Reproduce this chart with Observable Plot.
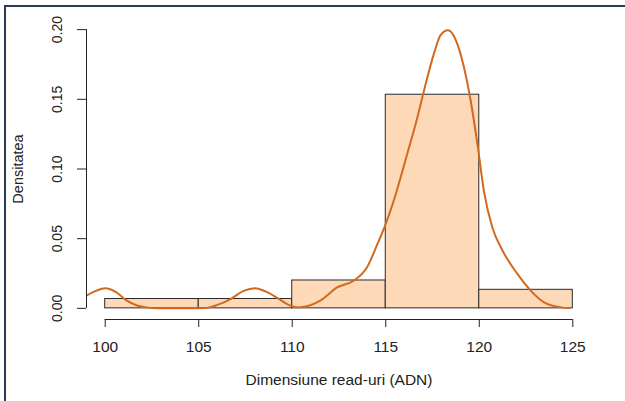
<!DOCTYPE html>
<html>
<head>
<meta charset="utf-8">
<script src="https://cdn.jsdelivr.net/npm/d3@7"></script>
<script src="https://cdn.jsdelivr.net/npm/@observablehq/plot@0.6"></script>
<style>
  html, body { margin: 0; padding: 0; background: #fff; }
  #wrap { position: relative; width: 625px; height: 401px; overflow: hidden; }
  #frame { position: absolute; left: 4px; top: 5px; width: 700px; height: 500px;
           border-top: 2px solid #2b3a58; border-left: 2px solid #2b3a58; pointer-events: none; }
  svg { font-family: "Liberation Sans", Arial, sans-serif; }
</style>
</head>
<body>
<div id="wrap"><div id="frame"></div></div>
<script>
// Histogram bins (breaks) and densities
const binStart = [100, 105, 110, 115, 120];
const binEnd   = [105, 110, 115, 120, 125];
const binDensity = [0.0067, 0.0067, 0.02, 0.1533, 0.0133];

// Density curve
const curveX = [99.0, 99.5, 100.0, 100.6, 101.16, 101.7, 102.2, 102.8, 103.5, 104.5, 105.4, 106.0, 106.7, 107.4, 108.0, 108.6, 109.2, 109.8, 110.3, 110.8, 111.5, 112.4, 113.3, 114.0, 114.55, 115.0, 115.43, 116.15, 116.69, 117.04, 117.58, 117.93, 118.33, 118.82, 119.18, 119.54, 119.9, 120.25, 120.7, 121.24, 122.04, 122.75, 123.46, 124.36, 124.8];
const curveY = [0.0091, 0.0125, 0.0144, 0.0115, 0.0055, 0.002, 0.0007, 0.0, 0.0, 0.0, 0.0003, 0.0025, 0.0067, 0.0125, 0.0144, 0.012, 0.0075, 0.0025, 0.0007, 0.0015, 0.0055, 0.015, 0.02, 0.0295, 0.046, 0.0606, 0.0774, 0.111, 0.137, 0.156, 0.183, 0.196, 0.1995, 0.19, 0.173, 0.149, 0.118, 0.084, 0.058, 0.0415, 0.0247, 0.0127, 0.0043, 0.0007, 0.0002];

const xTicks = [100, 105, 110, 115, 120, 125];
const yTicks = [0, 0.05, 0.10, 0.15, 0.20];
const xTitle = "Dimensiune read-uri (ADN)";
const yTitle = "Densitatea";

const xDomain = [99, 126];
const yDomain = [-0.008, 0.208];

const bins = binStart.map((s, i) => ({x1: s, x2: binEnd[i], d: binDensity[i]}));
const curve = curveX.map((x, i) => ({x, y: curveY[i]}));

const chart = Plot.plot({
  width: 625,
  height: 401,
  marginLeft: 86,
  marginRight: 34,
  marginTop: 18,
  marginBottom: 82,
  x: {domain: xDomain, axis: null},
  y: {domain: yDomain, axis: null},
  style: {fontFamily: "'Liberation Sans', Arial, sans-serif", background: "transparent"},
  marks: [
    Plot.rectY(bins, {x1: "x1", x2: "x2", y1: 0, y2: "d", fill: "#fed9b8", stroke: "#2a2a2a", strokeWidth: 1}),
    Plot.line(curve, {x: "x", y: "y", stroke: "#d2691e", strokeWidth: 2, curve: "monotone-x", clip: true}),
    // x axis
    Plot.ruleY([yDomain[0]], {x1: xTicks[0], x2: xTicks[xTicks.length - 1], stroke: "#222"}),
    Plot.axisX({ticks: xTicks, tickSize: 8, tickPadding: 13, fontSize: 15.5, stroke: "#222", fill: "#222", label: null, tickFormat: d => String(d)}),
    // y axis
    Plot.ruleX([xDomain[0]], {y1: yTicks[0], y2: yTicks[yTicks.length - 1], stroke: "#222"}),
    Plot.axisY({ticks: yTicks, tickSize: 9, stroke: "#222", label: null, tickFormat: () => ""}),
    Plot.text(yTicks, {x: xDomain[0], y: d => d, text: d => d.toFixed(2), rotate: -90, dx: -29, fontSize: 14, fill: "#222", textAnchor: "middle", lineAnchor: "middle"}),
    // titles
    Plot.text([xTitle], {frameAnchor: "bottom", dy: 61, fontSize: 15.5, fill: "#222", textAnchor: "middle", lineAnchor: "middle"}),
    Plot.text([yTitle], {frameAnchor: "left", dx: -68, rotate: -90, fontSize: 14.5, fill: "#222", textAnchor: "middle", lineAnchor: "middle"})
  ]
});
document.getElementById("wrap").insertBefore(chart, document.getElementById("frame"));
</script>
</body>
</html>
